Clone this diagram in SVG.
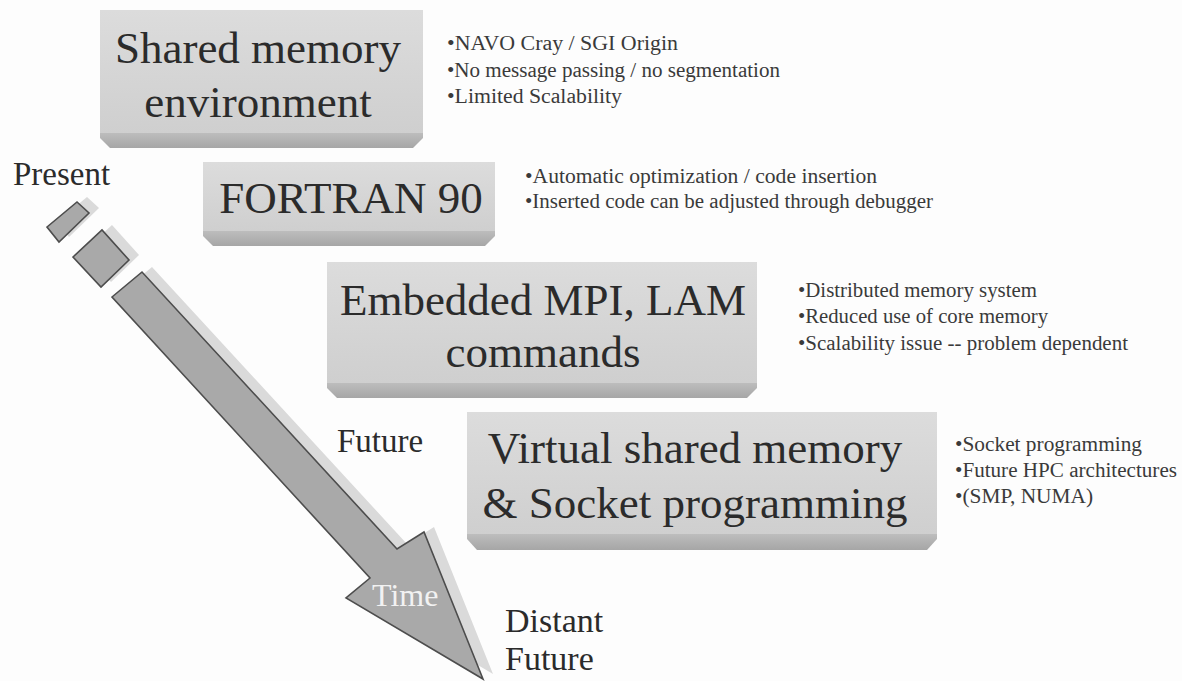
<svg xmlns="http://www.w3.org/2000/svg" width="1182" height="681" viewBox="0 0 1182 681">
  <defs>
    <linearGradient id="faceGrad" x1="0" y1="0" x2="0" y2="1">
      <stop offset="0" stop-color="#dcdcdc"/>
      <stop offset="1" stop-color="#cfcfcf"/>
    </linearGradient>
    <linearGradient id="bevelGrad" x1="0" y1="0" x2="0" y2="1">
      <stop offset="0" stop-color="#bdbdbd"/>
      <stop offset="1" stop-color="#a6a6a6"/>
    </linearGradient>
    <style>
      .face { fill: url(#faceGrad); }
      .bevel { fill: url(#bevelGrad); }
      .title { font-family: "Liberation Serif", "Times New Roman", serif; font-size: 45px; fill: #2b2b2b; text-anchor: middle; }
      .label { font-family: "Liberation Serif", "Times New Roman", serif; font-size: 33px; fill: #2b2b2b; }
      .bullet { font-family: "Liberation Serif", "Times New Roman", serif; font-size: 20px; fill: #3a3a3a; }
      .shadow { fill: #dadada; }
      .arrow { fill: #a9a9a9; stroke: #4d4d4d; stroke-width: 1.6; stroke-linejoin: miter; }
      .timeText { font-family: "Liberation Serif", "Times New Roman", serif; font-size: 32px; fill: #f2f2f2; }
    </style>
  </defs>

  <rect x="0" y="0" width="1182" height="681" fill="#fdfdfd"/>

  <g id="timeline">
    <g transform="translate(10,-5)">
      <polygon class="shadow" points="47,227 77,202 89,213 59,242"/>
      <polygon class="shadow" points="73,257 102,230 129,260 101,287"/>
      <polygon class="shadow" points="112,297 142,272 397,549 424,532 483,679 346,598 370,578"/>
    </g>
    <polygon class="arrow" points="47,227 77,202 89,213 59,242"/>
    <polygon class="arrow" points="73,257 102,230 129,260 101,287"/>
    <polygon class="arrow" points="112,297 142,272 397,549 424,532 483,679 346,598 370,578"/>
    <text class="timeText" x="372" y="606">Time</text>
  </g>

  <g id="labels">
    <text class="label" x="13" y="185">Present</text>
    <text class="label" x="337" y="452">Future</text>
    <text class="label" x="505" y="632" style="font-size:34px">Distant</text>
    <text class="label" x="505" y="670" style="font-size:34px">Future</text>
  </g>

  <g id="node-shared-memory">
    <rect class="face" x="100" y="10" width="323" height="123"/>
    <polygon class="bevel" points="100,133 423,133 423,138 413,148 110,148 100,138"/>
    <text class="title" x="258" y="63">Shared memory</text>
    <text class="title" x="258" y="117">environment</text>
    <text class="bullet" x="447" y="50" textLength="231" lengthAdjust="spacingAndGlyphs">•NAVO Cray / SGI Origin</text>
    <text class="bullet" x="447" y="77" textLength="333" lengthAdjust="spacingAndGlyphs">•No message passing / no segmentation</text>
    <text class="bullet" x="447" y="103" textLength="175" lengthAdjust="spacingAndGlyphs">•Limited Scalability</text>
  </g>

  <g id="node-fortran90">
    <rect class="face" x="203" y="162" width="292" height="69"/>
    <polygon class="bevel" points="203,231 495,231 495,236 485,246 213,246 203,236"/>
    <text class="title" x="351" y="213">FORTRAN 90</text>
    <text class="bullet" x="525" y="183" textLength="352" lengthAdjust="spacingAndGlyphs">•Automatic optimization / code insertion</text>
    <text class="bullet" x="525" y="208" textLength="408" lengthAdjust="spacingAndGlyphs">•Inserted code can be adjusted through debugger</text>
  </g>

  <g id="node-mpi-lam">
    <rect class="face" x="327" y="262" width="430" height="121"/>
    <polygon class="bevel" points="327,383 757,383 757,388 747,398 337,398 327,388"/>
    <text class="title" x="543" y="315">Embedded MPI, LAM</text>
    <text class="title" x="543" y="367">commands</text>
    <text class="bullet" x="798" y="297" textLength="239" lengthAdjust="spacingAndGlyphs">•Distributed memory system</text>
    <text class="bullet" x="798" y="323" textLength="250" lengthAdjust="spacingAndGlyphs">•Reduced use of core memory</text>
    <text class="bullet" x="798" y="350" textLength="330" lengthAdjust="spacingAndGlyphs">•Scalability issue -- problem dependent</text>
  </g>

  <g id="node-virtual-shared">
    <rect class="face" x="467" y="412" width="470" height="122"/>
    <polygon class="bevel" points="467,534 937,534 937,539 927,550 477,550 467,539"/>
    <text class="title" x="695" y="463">Virtual shared memory</text>
    <text class="title" x="695" y="518">&amp; Socket programming</text>
    <text class="bullet" x="955" y="451" textLength="187" lengthAdjust="spacingAndGlyphs">•Socket programming</text>
    <text class="bullet" x="955" y="477" textLength="222" lengthAdjust="spacingAndGlyphs">•Future HPC architectures</text>
    <text class="bullet" x="955" y="503" textLength="138" lengthAdjust="spacingAndGlyphs">•(SMP, NUMA)</text>
  </g>
</svg>
